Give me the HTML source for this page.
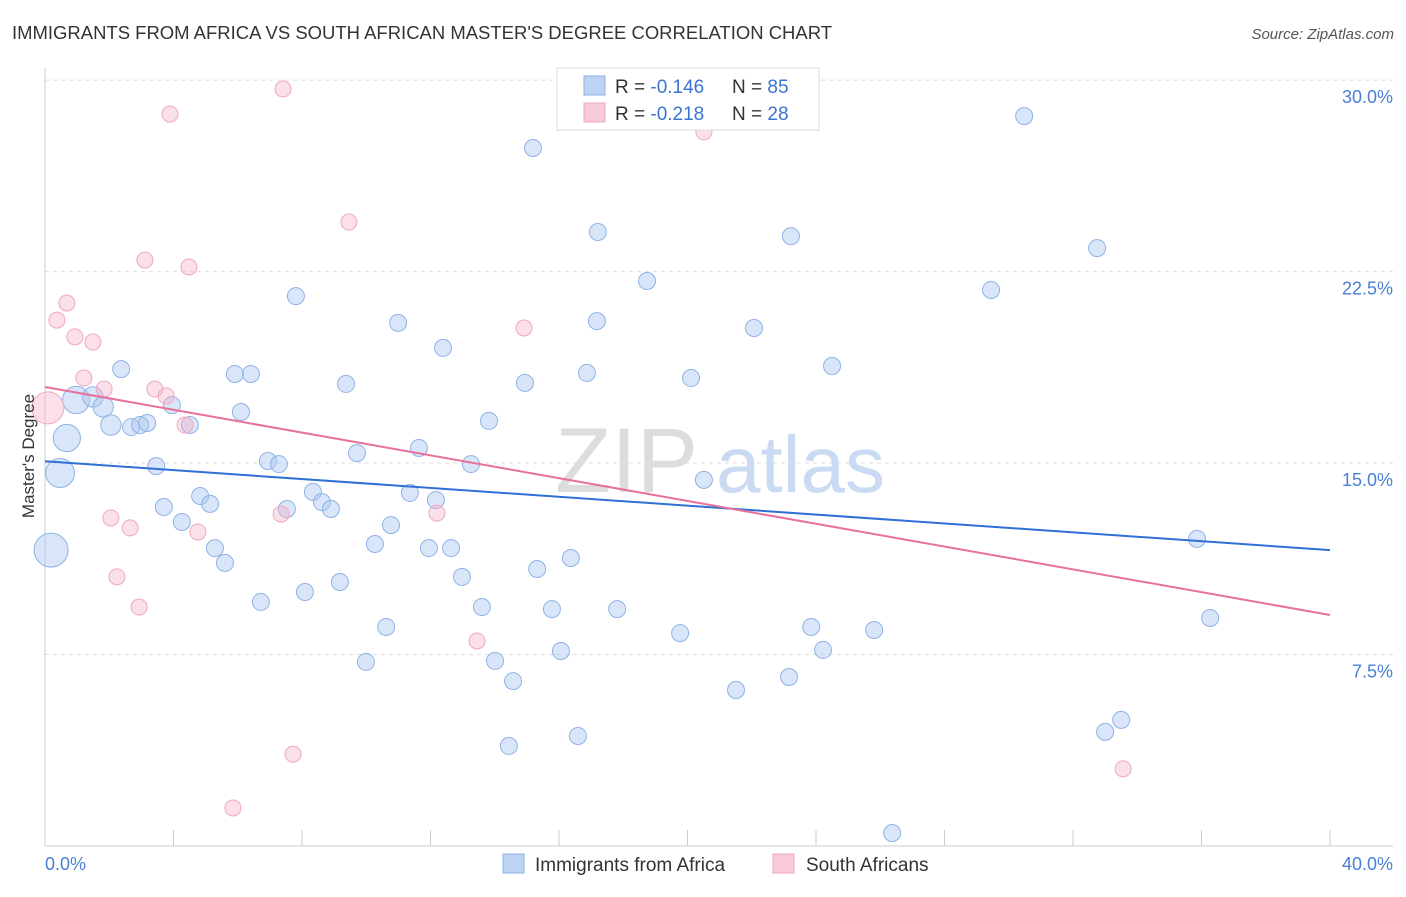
<!DOCTYPE html>
<html><head><meta charset="utf-8"><style>
body{margin:0;background:#fff;font-family:"Liberation Sans",sans-serif;}
svg text{font-family:"Liberation Sans",sans-serif;}
</style></head><body>
<svg id="chart" width="1406" height="892" viewBox="0 0 1406 892" xmlns="http://www.w3.org/2000/svg">
<text x="12" y="39" font-size="18" fill="#333" textLength="820" lengthAdjust="spacingAndGlyphs">IMMIGRANTS FROM AFRICA VS SOUTH AFRICAN MASTER'S DEGREE CORRELATION CHART</text>
<text x="1394" y="39" font-size="15" fill="#555" font-style="italic" text-anchor="end">Source: ZipAtlas.com</text>
<g id="grid"></g>
<g><text x="555" y="492" font-size="92" fill="#ddd" font-family="Liberation Serif">ZIP</text><text x="716" y="492" font-size="80" fill="#c9daf2">atlas</text></g>
<line x1="45" y1="68" x2="45" y2="846" stroke="#ccc"/>
<line x1="45" y1="846" x2="1393" y2="846" stroke="#ccc"/>
<g id="ticks"></g>
<g id="pts"></g>
<g id="trends"></g>
<text x="45" y="870" font-size="18" fill="#4a7fd4">0.0%</text>
<text x="1393" y="870" font-size="18" fill="#4a7fd4" text-anchor="end">40.0%</text>
<text transform="translate(34,456) rotate(-90)" font-size="17" fill="#333" text-anchor="middle">Master's Degree</text>
<g>
<rect x="557" y="68" width="262" height="62" fill="#fff" stroke="#ddd"/>
<rect x="584" y="76" width="21" height="19" fill="#bcd3f3" stroke="#8fb3e6"/>
<text x="615" y="93" font-size="19" fill="#333">R = <tspan fill="#3b73d1">-0.146</tspan></text>
<text x="732" y="93" font-size="19" fill="#333">N = <tspan fill="#3b73d1">85</tspan></text>
<rect x="584" y="103" width="21" height="19" fill="#f8c9d8" stroke="#eea8c0"/>
<text x="615" y="120" font-size="19" fill="#333">R = <tspan fill="#3b73d1">-0.218</tspan></text>
<text x="732" y="120" font-size="19" fill="#333">N = <tspan fill="#3b73d1">28</tspan></text>
</g>
<g>
<rect x="503" y="854" width="21" height="19" fill="#bcd3f3" stroke="#8fb3e6"/>
<text x="535" y="871" font-size="19" fill="#333">Immigrants from Africa</text>
<rect x="773" y="854" width="21" height="19" fill="#f8c9d8" stroke="#eea8c0"/>
<text x="806" y="871" font-size="19" fill="#333">South Africans</text>
</g>
</svg>
<script>
const yTicks=[7.5,15.0,22.5,30.0];
const yTickLabels=["7.5%","15.0%","22.5%","30.0%"];
const xTicks=[0,4,8,12,16,20,24,28,32,36,40];
const blueX=[15.19,30.48,17.21,23.22,32.75,18.74,29.45,7.81,10.99,17.18,22.07,12.39,24.50,2.37,5.91,6.41,16.87,20.11,9.37,14.94,0.97,1.49,1.81,3.95,6.10,13.82,2.05,2.68,2.96,3.18,4.51,0.68,11.64,9.71,3.46,6.94,7.28,13.26,0.47,20.51,8.34,11.36,4.83,12.17,8.62,8.90,3.70,5.14,7.53,4.26,10.77,35.86,10.27,11.95,12.64,5.29,0.19,16.37,5.60,15.32,12.98,9.18,8.09,6.72,13.60,15.78,17.81,36.27,10.62,23.85,19.77,25.81,16.06,24.22,9.99,14.01,23.16,14.57,21.51,33.50,33.00,16.59,14.44,26.37];
const blueY=[27.34,28.59,24.05,23.89,23.42,22.13,21.78,21.54,20.49,20.56,20.29,19.51,18.80,18.68,18.49,18.49,18.53,18.33,18.10,18.14,17.47,17.59,17.20,17.27,17.00,16.65,16.49,16.41,16.49,16.57,16.49,15.98,15.59,15.39,14.88,15.08,14.96,14.96,14.61,14.34,13.87,13.83,13.71,13.55,13.47,13.20,13.28,13.40,13.20,12.69,12.57,12.03,11.83,11.67,11.67,11.67,11.59,11.28,11.09,10.85,10.54,10.34,9.95,9.56,9.36,9.28,9.28,8.93,8.58,8.58,8.34,8.46,7.64,7.68,7.21,7.25,6.62,6.46,6.11,4.94,4.47,4.31,3.92,0.51];
const blueSize=[1,1,1,1,1,1,1,1,1,1,1,1,1,1,1,1,1,1,1,1,1.6,1.2,1.2,1,1,1,1.2,1,1,1,1,1.6,1,1,1,1,1,1,1.7,1,1,1,1,1,1,1,1,1,1,1,1,1,1,1,1,1,2,1,1,1,1,1,1,1,1,1,1,1,1,1,1,1,1,1,1,1,1,1,1,1,1,1,1,1];
const pinkX=[7.41,3.89,20.51,9.46,3.11,4.48,0.68,0.37,14.91,0.93,1.49,1.21,3.42,1.84,3.77,0.09,4.36,2.05,7.35,2.65,12.20,4.76,2.24,2.93,13.45,7.72,5.85,33.56];
const pinkY=[29.65,28.67,27.97,24.44,22.95,22.68,21.27,20.60,20.29,19.94,19.74,18.33,17.90,17.90,17.63,17.16,16.49,12.85,13.00,12.46,13.04,12.30,10.54,9.36,8.03,3.60,1.49,3.02];
const pinkSize=[1,1,1,1,1,1,1,1,1,1,1,1,1,1,1,2.0,1,1,1,1,1,1,1,1,1,1,1,1];
const blueTrend=[15.07,11.59];
const pinkTrend=[17.98,9.05];
const trendX=[0,40];
const NS="http://www.w3.org/2000/svg";
const sx=v=>45+v*32.125;
const sy=v=>846-v*25.53;
function mk(tag,attrs,parent){const e=document.createElementNS(NS,tag);for(const k in attrs)e.setAttribute(k,attrs[k]);parent.appendChild(e);return e;}
const grid=document.getElementById('grid');
yTicks.forEach((t,i)=>{
 const l=mk('line',{x1:45,x2:1393,y1:sy(t),y2:sy(t),stroke:'#ddd','stroke-dasharray':'4,4'},grid);
 
 
 const tx=mk('text',{x:1393,y:sy(t)+23,'font-size':18,fill:'#4a7fd4','text-anchor':'end'},grid);
 tx.textContent=yTickLabels[i];
 
 
});
const tg=document.getElementById('ticks');
xTicks.forEach(t=>{
 const l=mk('line',{x1:sx(t),x2:sx(t),y1:830,y2:846,stroke:'#ccc'},tg);
 
 
});
const pg=document.getElementById('pts');
blueX.forEach((x,i)=>{
 const c=mk('circle',{cx:sx(x),cy:sy(blueY[i]),r:8.5*blueSize[i],fill:'rgba(170,198,240,0.45)',stroke:'#8fb3e6','stroke-width':1},pg);
 
 
});
pinkX.forEach((x,i)=>{
 const c=mk('circle',{cx:sx(x),cy:sy(pinkY[i]),r:8*pinkSize[i],fill:'rgba(246,178,200,0.4)',stroke:'#eea8c0','stroke-width':1},pg);
 
 
});
const trg=document.getElementById('trends');
const bl=mk('line',{x1:sx(trendX[0]),y1:sy(blueTrend[0]),x2:sx(trendX[1]),y2:sy(blueTrend[1]),stroke:'#2f6fd6','stroke-width':2},trg);


const pl=mk('line',{x1:sx(trendX[0]),y1:sy(pinkTrend[0]),x2:sx(trendX[1]),y2:sy(pinkTrend[1]),stroke:'#e8709a','stroke-width':2},trg);


</script>
</body></html>
